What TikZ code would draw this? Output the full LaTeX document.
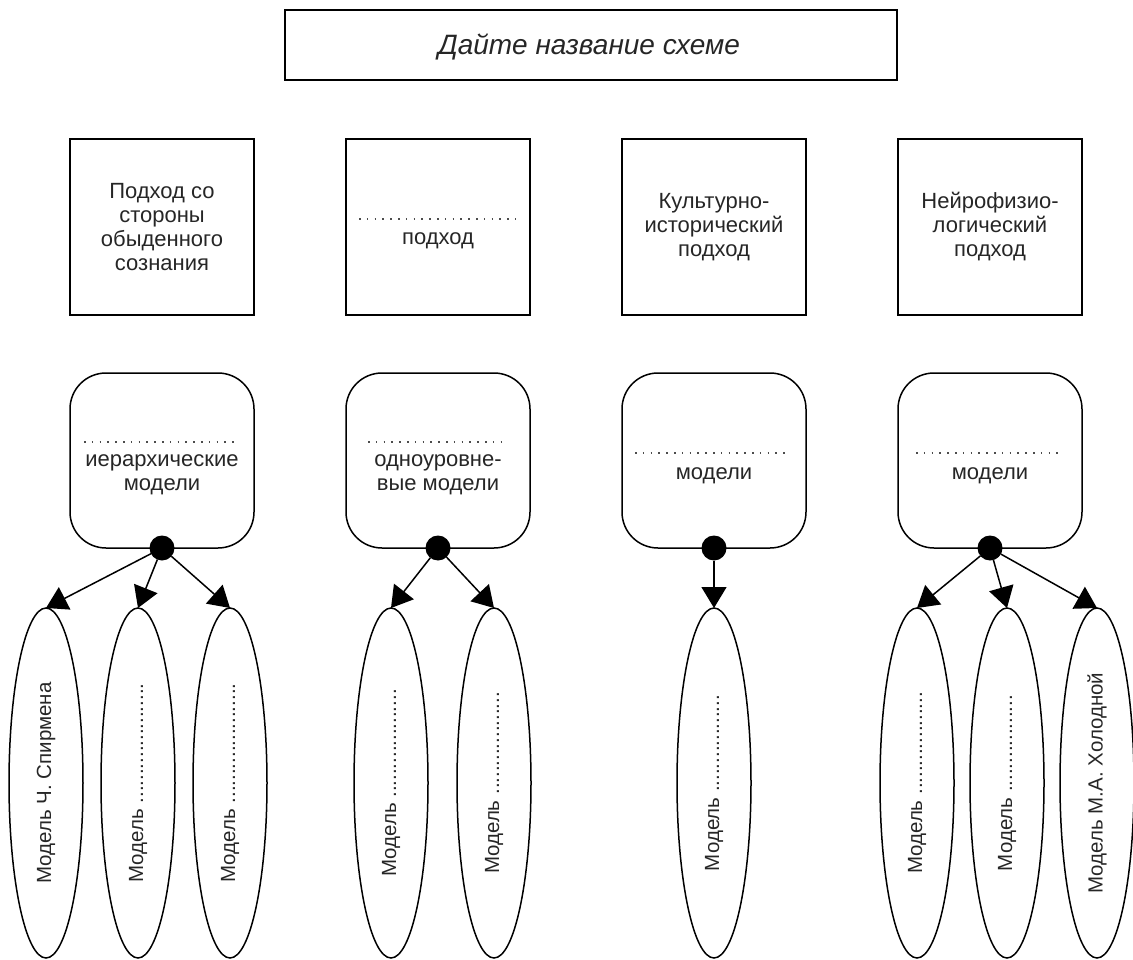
\documentclass[tikz,border=0pt]{standalone}
\usepackage{fontspec}
\setmainfont{Liberation Sans}
\usepackage{graphicx}
\usetikzlibrary{shapes.geometric,arrows.meta}
\begin{document}
\begin{tikzpicture}[x=1pt,y=-1pt,
  every node/.style={font=\fontsize{22}{24}\selectfont, text=black!85, align=center, inner sep=0pt, outer sep=0pt},
  sqbox/.style={draw, line width=1.5pt, minimum width=184pt, minimum height=176pt},
  rbox/.style={draw, line width=1.5pt, rounded corners=36pt, minimum width=184pt, minimum height=175pt},
  oval/.style={draw, ellipse, line width=1.5pt, minimum width=74pt, minimum height=350pt, font=\fontsize{20.5}{24}\selectfont},
  hub/.style={circle, fill=black, minimum size=25pt},
  arr/.style={line width=1.5pt, -{Triangle[length=21pt,width=25pt]}},
  dotline/.style={line width=1.2pt, dash pattern=on 1.5pt off 6.3pt, black!70},
]
\useasboundingbox (0,0) rectangle (1133,960);
\node[draw, line width=1.5pt, minimum width=612pt, minimum height=70pt] (title) at (591,45) {};
\node[anchor=base, font=\fontsize{28}{30}\selectfont\itshape] (titlet) at (589,55) {Дайте название схеме};

% top boxes
\node[sqbox] (b1) at (162,227) {Подход со\\стороны\\обыденного\\сознания};
\node[sqbox] (b2) at (438,227) {};
\node[sqbox] (b3) at (714,227) {Культурно-\\исторический\\подход};
\node[sqbox] (b4) at (990,227) {Нейрофизио-\\логический\\подход};
\coordinate (b2l) at (359,219);
\coordinate (b2r) at (516,219);
\draw[dotline] (b2l) -- (b2r);
\node (b2t) at (438,241) {подход};

% rounded boxes
\node[rbox] (r1) at (162,460.5) {};
\node[rbox] (r2) at (438,460.5) {};
\node[rbox] (r3) at (714,460.5) {};
\node[rbox] (r4) at (990,460.5) {};
\coordinate (r1l) at (84,442);  \coordinate (r1r) at (239,442);
\coordinate (r2l) at (368,442); \coordinate (r2r) at (507,442);
\coordinate (r3l) at (635,453); \coordinate (r3r) at (791,453);
\coordinate (r4l) at (916,453); \coordinate (r4r) at (1061,453);
\draw[dotline] (r1l) -- (r1r);
\draw[dotline] (r2l) -- (r2r);
\draw[dotline] (r3l) -- (r3r);
\draw[dotline] (r4l) -- (r4r);
\node (r1t) at (162,475) {иерархические\\модели};
\node (r2t) at (438,475) {одноуровне-\\вые модели};
\node (r3t) at (714,476) {модели};
\node (r4t) at (990,476) {модели};

% hubs
\node[hub] (h1) at (r1.south) {};
\node[hub] (h2) at (r2.south) {};
\node[hub] (h3) at (r3.south) {};
\node[hub] (h4) at (r4.south) {};

% ellipses
\node[oval] (e11) at (46,783) {\rotatebox{90}{Модель Ч. Спирмена}};
\node[oval] (e12) at (138,783) {\rotatebox{90}{Модель .....................}};
\node[oval] (e13) at (230,783) {\rotatebox{90}{Модель .....................}};
\node[oval] (e21) at (391,783) {\rotatebox{90}{Модель ...................}};
\node[oval] (e22) at (494,783) {\rotatebox{90}{Модель ..................}};
\node[oval] (e31) at (714,783) {\rotatebox{90}{Модель .................}};
\node[oval] (e41) at (917,783) {\rotatebox{90}{Модель ..................}};
\node[oval] (e42) at (1007,783) {\rotatebox{90}{Модель .................}};
\node[oval] (e43) at (1097,783) {\rotatebox{90}{Модель М.А. Холодной}};

% arrows
\draw[arr] (h1) -- (e11.north);
\draw[arr] (h1) -- (e12.north);
\draw[arr] (h1) -- (e13.north);
\draw[arr] (h2) -- (e21.north);
\draw[arr] (h2) -- (e22.north);
\draw[arr] (h3) -- (e31.north);
\draw[arr] (h4) -- (e41.north);
\draw[arr] (h4) -- (e42.north);
\draw[arr] (h4) -- (e43.north);
\end{tikzpicture}
\end{document}
